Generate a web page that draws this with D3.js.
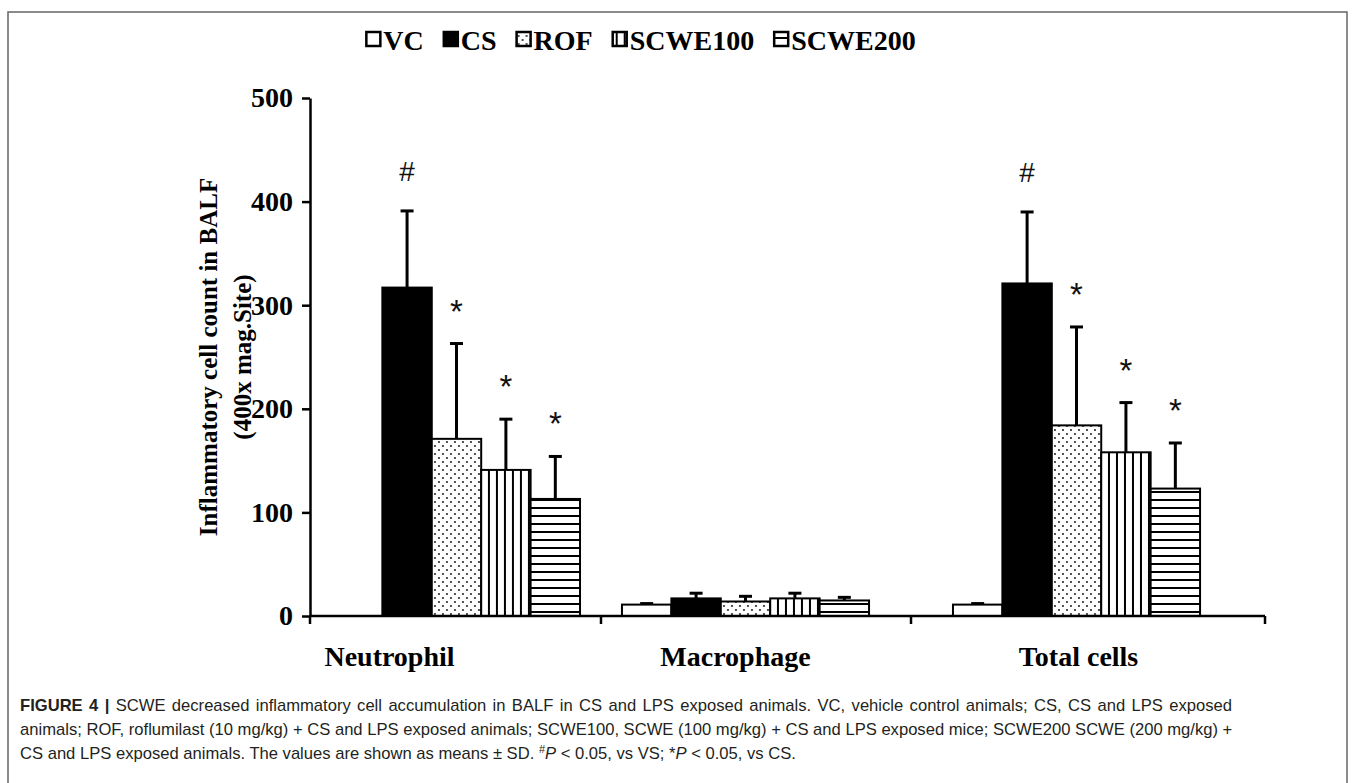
<!DOCTYPE html>
<html><head><meta charset="utf-8">
<script src="https://cdn.jsdelivr.net/npm/d3@7"></script>
<style>body{margin:0;background:#fff}</style>
</head><body>
<svg id="c" width="1355" height="783"></svg>
<script>
const categories = ["Neutrophil", "Macrophage", "Total cells"];
const groups = ["VC", "CS", "ROF", "SCWE100", "SCWE200"];
const meanNeutrophil = [0, 317, 171, 141, 113];
const sdNeutrophil = [0, 74, 92, 49, 41];
const meanMacrophage = [11, 17, 14, 17, 15];
const sdMacrophage = [1, 5, 5, 5, 3];
const meanTotal = [11, 321, 184, 158, 123];
const sdTotal = [1, 69, 95, 48, 44];
const marksNeutrophil = ["", "#", "*", "*", "*"];
const marksMacrophage = ["", "", "", "", ""];
const marksTotal = ["", "#", "*", "*", "*"];
const yTicks = [0, 100, 200, 300, 400, 500];
const yTitle = ["Inflammatory cell count in BALF", "(400x mag.Site)"];
const captionLines = [
  [["FIGURE 4 | ", true], ["SCWE decreased inflammatory cell accumulation in BALF in CS and LPS exposed animals. VC, vehicle control animals; CS, CS and LPS exposed", false]],
  [["animals; ROF, roflumilast (10 mg/kg) + CS and LPS exposed animals; SCWE100, SCWE (100 mg/kg) + CS and LPS exposed mice; SCWE200 SCWE (200 mg/kg) +", false]],
  [["CS and LPS exposed animals. The values are shown as means \u00B1 SD. ", false], ["#", false, "sup"], ["P", false, "it"], [" < 0.05, vs VS; *", false], ["P", false, "it"], [" < 0.05, vs CS.", false]]
];

const means = [meanNeutrophil, meanMacrophage, meanTotal];
const sds = [sdNeutrophil, sdMacrophage, sdTotal];
const marks = [marksNeutrophil, marksMacrophage, marksTotal];

const svg = d3.select("#c");
const serif = "'Liberation Serif','Times New Roman',serif";
const sans = "'Liberation Sans',Arial,Helvetica,sans-serif";

// frame
svg.append("rect").attr("x", 8).attr("y", 12).attr("width", 1339).attr("height", 800)
  .attr("fill", "none").attr("stroke", "#666").attr("stroke-width", 1.5);

// patterns
const defs = svg.append("defs");
const pDots = defs.append("pattern").attr("id", "pDots").attr("patternUnits", "userSpaceOnUse")
  .attr("width", 8).attr("height", 8);
pDots.append("rect").attr("width", 8).attr("height", 8).attr("fill", "#fff");
pDots.append("circle").attr("cx", 2).attr("cy", 2).attr("r", 0.9).attr("fill", "#000");
pDots.append("circle").attr("cx", 6).attr("cy", 6).attr("r", 0.9).attr("fill", "#000");
const pV = defs.append("pattern").attr("id", "pV").attr("patternUnits", "userSpaceOnUse")
  .attr("width", 8).attr("height", 8);
pV.append("rect").attr("width", 8).attr("height", 8).attr("fill", "#fff");
pV.append("rect").attr("x", 3).attr("width", 2).attr("height", 8).attr("fill", "#000");
const pH = defs.append("pattern").attr("id", "pH").attr("patternUnits", "userSpaceOnUse")
  .attr("width", 8).attr("height", 8);
pH.append("rect").attr("width", 8).attr("height", 8).attr("fill", "#fff");
pH.append("rect").attr("y", 3).attr("width", 8).attr("height", 2).attr("fill", "#000");
const fills = ["#fff", "#000", "url(#pDots)", "url(#pV)", "url(#pH)"];

const axisLeftX = 310, axisRightX = 1265, baseY = 616;
const groupShift = [0, -21, 0];
const labelShift = [-67, -31, 2];
const y = d3.scaleLinear().domain([0, 500]).range([baseY, 98]);
const x0 = d3.scaleBand().domain(categories).range([axisLeftX, 1223]).paddingInner(0.203).paddingOuter(0.074);
const x1 = d3.scaleBand().domain(groups).range([0, x0.bandwidth()]);
const gx = (c, i) => x0(c) + groupShift[i];

// bars
categories.forEach((c, ci) => {
  const g = svg.append("g").attr("transform", `translate(${gx(c, ci)},0)`);
  groups.forEach((s, si) => {
    const v = means[ci][si], sd = sds[ci][si];
    const bx = x1(s), bw = x1.bandwidth(), cx = bx + bw / 2;
    if (sd > 0) {
      g.append("line").attr("x1", cx).attr("x2", cx).attr("y1", y(v)).attr("y2", y(v + sd))
        .attr("stroke", "#000").attr("stroke-width", 3);
      g.append("line").attr("x1", cx - 6.5).attr("x2", cx + 6.5).attr("y1", y(v + sd)).attr("y2", y(v + sd))
        .attr("stroke", "#000").attr("stroke-width", 3);
    }
    g.append("rect").attr("x", bx).attr("y", y(v)).attr("width", bw).attr("height", y(0) - y(v))
      .attr("fill", fills[si]).attr("stroke", "#000").attr("stroke-width", 2);
    const m = marks[ci][si];
    if (m) {
      const top = y(v + sd);
      g.append("text").attr("x", cx).attr("y", m === "#" ? top - 30 : top - 21)
        .attr("text-anchor", "middle").attr("font-family", sans)
        .attr("font-size", m === "#" ? 28 : 33).attr("fill", "#111").text(m);
    }
  });
});

// y axis
const yAxis = svg.append("g").attr("transform", `translate(${axisLeftX},0)`)
  .call(d3.axisLeft(y).tickValues(yTicks).tickSize(8).tickSizeOuter(0).tickPadding(9));
yAxis.select(".domain").attr("stroke", "#000").attr("stroke-width", 2.5);
yAxis.selectAll(".tick line").attr("stroke", "#000").attr("stroke-width", 2.5);
yAxis.selectAll(".tick text").attr("font-family", serif).attr("font-weight", "bold")
  .attr("font-size", 28).attr("fill", "#000");

// x axis
const xAxis = svg.append("g").attr("transform", `translate(0,${baseY})`)
  .call(d3.axisBottom(x0).tickSize(0).tickPadding(30));
xAxis.select(".domain").remove();
xAxis.selectAll(".tick text").attr("font-family", serif).attr("font-weight", "bold")
  .attr("font-size", 28).attr("fill", "#000").attr("dx", (d, i) => labelShift[i]);
xAxis.append("line").attr("x1", axisLeftX).attr("x2", axisRightX).attr("stroke", "#000").attr("stroke-width", 2.5);
const bounds = [axisLeftX];
for (let i = 1; i < categories.length; i++) {
  bounds.push((gx(categories[i - 1], i - 1) + x0.bandwidth() + gx(categories[i], i)) / 2);
}
bounds.push(axisRightX);
bounds.forEach(bx => {
  xAxis.append("line").attr("x1", bx).attr("x2", bx).attr("y1", 0).attr("y2", 8)
    .attr("stroke", "#000").attr("stroke-width", 2.5);
});

// y title
const yt = svg.append("text").attr("transform", "translate(225,357) rotate(-90)")
  .attr("text-anchor", "middle").attr("font-family", serif).attr("font-weight", "bold")
  .attr("font-size", 25).attr("fill", "#000");
yTitle.forEach((t, i) => yt.append("tspan").attr("x", 0).attr("dy", i === 0 ? -8 : 34).text(t));

// legend
const leg = svg.append("g");
let lx = 0;
groups.forEach((s, si) => {
  const it = leg.append("g").attr("transform", `translate(${lx},0)`);
  it.append("rect").attr("x", 0).attr("y", -18).attr("width", 14).attr("height", 14)
    .attr("fill", fills[si]).attr("stroke", "#000").attr("stroke-width", 2.5);
  const t = it.append("text").attr("x", 17).attr("y", 0).attr("font-family", serif)
    .attr("font-weight", "bold").attr("font-size", 28).attr("fill", "#000").text(s);
  lx += 17 + t.node().getComputedTextLength() + 20;
});
lx -= 20;
leg.attr("transform", `translate(${641 - lx / 2},50)`);

// caption (justified lines 1-2)
const capWidth = 1212;
captionLines.forEach((line, li) => {
  const t = svg.append("text").attr("font-family", sans).attr("font-size", 16.6).attr("fill", "#231f20")
    .attr("x", 20).attr("y", 711 + li * 24);
  line.forEach(seg => {
    const ts = t.append("tspan").text(seg[0]);
    if (seg[1]) ts.attr("font-weight", "bold");
    if (seg[2] === "sup") ts.attr("font-size", 11).attr("baseline-shift", "super");
    if (seg[2] === "it") ts.attr("font-style", "italic");
  });
  if (li < captionLines.length - 1) {
    const w = t.node().getComputedTextLength();
    const spaces = line.map(s => s[0]).join("").trim().split(" ").length - 1;
    if (w < capWidth && spaces > 0) t.attr("word-spacing", (capWidth - w) / spaces);
  }
});
</script>
</body></html>
